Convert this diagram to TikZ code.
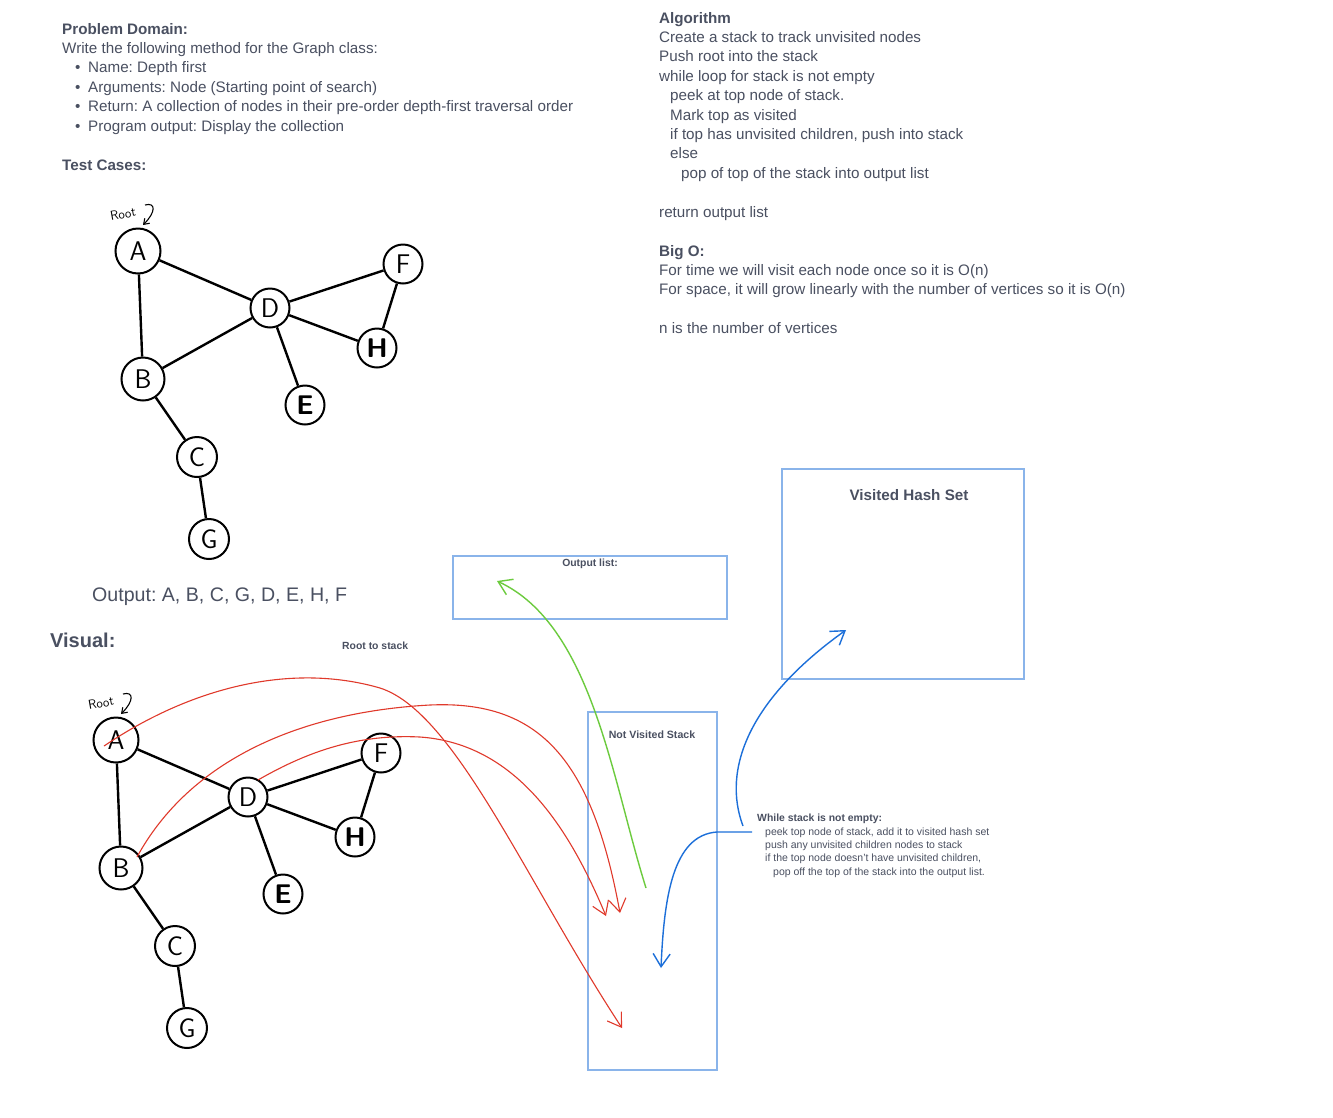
\documentclass[tikz,border=0pt]{standalone}
\usepackage{fontspec}
\setmainfont{Liberation Sans}
\usetikzlibrary{arrows.meta}
\frenchspacing

\definecolor{ink}{HTML}{4A5061}
\definecolor{boxblue}{HTML}{8AB4EA}
\definecolor{penred}{HTML}{E0392B}
\definecolor{pengreen}{HTML}{6CCB3E}
\definecolor{penblue}{HTML}{1C6FD9}

\tikzset{
  body/.style={font=\fontsize{15.2}{18}\selectfont, text=ink, inner sep=0pt, anchor=base west},
  head/.style={body, font=\fontsize{15.2}{18}\selectfont\bfseries},
  small/.style={font=\fontsize{10.5}{12}\selectfont, text=ink, inner sep=0pt, anchor=base west},
  smallhead/.style={small, font=\fontsize{10.4}{12}\selectfont\bfseries},
  gnode/.style={circle, draw=black, line width=2pt, minimum size=39pt, inner sep=0pt,
    font=\sffamily\fontsize{27}{27}\selectfont},
  gedge/.style={line width=2.4pt},
  tray/.style={draw=boxblue, line width=1.8pt},
  hand/.style={font=\sffamily\fontsize{13}{13}\selectfont, inner sep=0pt},
  barb/.style={-{Straight Barb[length=13pt,width=17pt]}},
  redpen/.style={draw=penred, line width=1.1pt, barb},
  greenpen/.style={draw=pengreen, line width=1.4pt, barb},
  bluepen/.style={draw=penblue, line width=1.4pt, barb},
}

% one copy of the example graph; #1,#2 shift it, #3 suffixes the node names
\newcommand\examplegraph[3]{%
\begin{scope}[shift={(#1,#2)}]
  \node[gnode, minimum size=45pt] (A#3) at (138,251) {A};
  \node[gnode, minimum size=43pt] (B#3) at (143,379) {B};
  \node[gnode] (D#3) at (270,308) {D};
  \node[gnode] (F#3) at (403,264) {F};
  \node[gnode] (H#3) at (377,348) {\bfseries H};
  \node[gnode] (E#3) at (305,405) {\bfseries E};
  \node[gnode, minimum size=40pt] (C#3) at (197,457) {C};
  \node[gnode, minimum size=40pt] (G#3) at (209,539) {G};
  \draw[gedge] (A#3) -- (D#3);
  \draw[gedge] (A#3) -- (B#3);
  \draw[gedge] (B#3) -- (D#3);
  \draw[gedge] (D#3) -- (F#3);
  \draw[gedge] (D#3) -- (H#3);
  \draw[gedge] (F#3) -- (H#3);
  \draw[gedge] (D#3) -- (E#3);
  \draw[gedge] (B#3) -- (C#3);
  \draw[gedge] (C#3) -- (G#3);
  \node[hand, rotate=10] (root#3) at (123,214) {Root};
  \coordinate (curl#3) at (145,205);
  \coordinate (curltip#3) at (143,225);
  \draw[line width=1.1pt, -{Straight Barb[length=5pt,width=7pt]}]
    (curl#3) .. controls (156,202) and (156,212) .. (curltip#3);
\end{scope}}

\begin{document}
\begin{tikzpicture}[x=1pt, y=-1pt]
\useasboundingbox[fill=white] (0,0) rectangle (1333,1117);

% ---------- problem statement ----------
\node[head] (pd) at (62,34) {Problem Domain:};
\node[body] (pd1) at (62,53.4) {Write the following method for the Graph class:};
\node[body] (bl1) at (75,72.8) {•};
\node[body] (pd2) at (88,72.8) {Name: Depth first};
\node[body] (bl2) at (75,92.2) {•};
\node[body] (pd3) at (88,92.2) {Arguments: Node (Starting point of search)};
\node[body] (bl3) at (75,111.6) {•};
\node[body] (pd4) at (88,111.6) {Return: A collection of nodes in their pre-order depth-first traversal order};
\node[body] (bl4) at (75,131) {•};
\node[body] (pd5) at (88,131) {Program output: Display the collection};
\node[head] (tc) at (62,170) {Test Cases:};

% ---------- algorithm ----------
\node[head] (alg) at (659,23) {Algorithm};
\node[body] (alg1) at (659,42.4) {Create a stack to track unvisited nodes};
\node[body] (alg2) at (659,61.8) {Push root into the stack};
\node[body] (alg3) at (659,81.2) {while loop for stack is not empty};
\node[body] (alg4) at (670,100.6) {peek at top node of stack.};
\node[body] (alg5) at (670,120) {Mark top as visited};
\node[body] (alg6) at (670,139.4) {if top has unvisited children, push into stack};
\node[body] (alg7) at (670,158.8) {else};
\node[body] (alg8) at (681,178.2) {pop of top of the stack into output list};
\node[body] (alg9) at (659,217) {return output list};
\node[head] (bigo) at (659,256) {Big O:};
\node[body] (bigo1) at (659,275.4) {For time we will visit each node once so it is O(n)};
\node[body] (bigo2) at (659,294.8) {For space, it will grow linearly with the number of vertices so it is O(n)};
\node[body] (bigo3) at (659,333.6) {n is the number of vertices};

% ---------- test case graph ----------
\examplegraph{0}{0}{1}
\node[body, font=\fontsize{19.6}{24}\selectfont] (out) at (92,601) {Output: A, B, C, G, D, E, H, F};

% ---------- visual walk-through ----------
\node[head, font=\fontsize{20}{24}\selectfont\bfseries] (vis) at (50,647) {Visual:};
\node[smallhead] (rts) at (342,649.5) {Root to stack};
\examplegraph{-22}{489}{2}

\draw[tray] (453,556) rectangle (727,619);
\node[smallhead, anchor=base] (outlist) at (590,566.5) {Output list:};
\draw[tray] (782,469) rectangle (1024,679);
\node[head, anchor=base] (hashset) at (909,500) {Visited Hash Set};
\draw[tray] (588,712) rectangle (717,1070);
\node[smallhead, font=\fontsize{10.6}{12}\selectfont\bfseries, anchor=base] (stack) at (652,738) {Not Visited Stack};

\node[smallhead] (wl) at (757,821.5) {While stack is not empty:};
\node[small] (wl1) at (765,835) {peek top node of stack, add it to visited hash set};
\node[small] (wl2) at (765,848.3) {push any unvisited children nodes to stack};
\node[small] (wl3) at (765,861.6) {if the top node doesn't have unvisited children,};
\node[small] (wl4) at (773,875) {pop off the top of the stack into the output list.};

% red strokes: nodes pushed onto the stack
\coordinate (redA) at (104,746);
\coordinate (redB) at (137,857);
\coordinate (redD) at (258,780);
\coordinate (slotA) at (622,1028);
\coordinate (slotB) at (620,913);
\coordinate (slotD) at (606,916);
\draw[redpen] (redA) .. controls (190,688) and (290,662) .. (380,688)
  .. controls (455,712) and (525,880) .. (slotA);
\draw[redpen] (redB) .. controls (190,760) and (300,712) .. (430,705)
  .. controls (540,700) and (592,760) .. (slotB);
\draw[redpen] (redD) .. controls (310,750) and (360,734) .. (420,737)
  .. controls (520,744) and (572,835) .. (slotD);

% green stroke: stack top popped into the output list
\coordinate (popfrom) at (646,888);
\coordinate (popto) at (497,581);
\draw[greenpen] (popfrom) .. controls (612,780) and (592,625) .. (popto);

% blue strokes: the loop body
\coordinate (loopa) at (752,832);
\coordinate (loopb) at (743,826);
\coordinate (peekto) at (661,968);
\coordinate (markto) at (846,630);
\draw[bluepen] (loopa) -- (717,832) .. controls (672,835) and (664,900) .. (peekto);
\draw[bluepen] (loopb) .. controls (722,770) and (748,700) .. (markto);
\end{tikzpicture}
\end{document}
